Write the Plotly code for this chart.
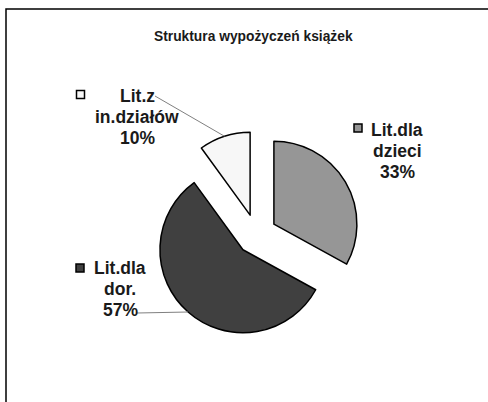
import math
import plotly.graph_objects as go

# ---- data ----
categories = ["Lit.dla dzieci", "Lit.dla dor.", "Lit.z in.działów"]
label_lines = [["Lit.dla", "dzieci"], ["Lit.dla", "dor."], ["Lit.z", "in.działów"]]
values = [33, 57, 10]
colors = ["#969696", "#404040", "#f7f7f7"]
title = "Struktura wypożyczeń książek"

# ---- geometry (pixels) ----
W, H = 488, 402
CX, CY = 256.4, 234.5
R = 83.0
PULL = 0.245
RB = R * (1 + PULL)
LINE_H = 20.7

def px(x):
    return x / W

def py(y):
    return 1 - y / H

fig = go.Figure(go.Pie(
    labels=categories,
    values=values,
    sort=False,
    direction="clockwise",
    rotation=0,
    pull=[PULL] * len(values),
    marker=dict(colors=colors, line=dict(color="#000000", width=1.5)),
    textinfo="none",
    hoverinfo="label+percent",
    showlegend=False,
    domain=dict(x=[px(CX - RB), px(CX + RB)], y=[py(CY + RB), py(CY - RB)]),
))

# mid angles of slices (clockwise from 12 o'clock)
total = sum(values)
mid = []
acc = 0
for v in values:
    mid.append((acc + v / 2) / total * 2 * math.pi)
    acc += v

def arc_point(i):
    a = mid[i]
    return CX + RB * math.sin(a), CY - RB * math.cos(a)

# label placement (pixel centres of text blocks) and key squares
label_pos = [(397, 151), (120, 289), (137, 117)]
key_pos = [(358, 128), (80, 268), (80.5, 94.5)]
leader_start = {2: (155, 96), 1: (137, 313)}

annotations = [dict(
    text=f"<b>{title}</b>", x=px(254), y=py(36), xref="paper", yref="paper",
    showarrow=False, font=dict(family="Liberation Sans, Arial", size=13.8, color="#1a1a1a"),
    xanchor="center", yanchor="middle")]

shapes = [dict(type="rect", xref="paper", yref="paper",
               x0=px(6), x1=px(W + 20), y0=py(H + 20), y1=py(9),
               line=dict(color="#000000", width=1.5), fillcolor="rgba(0,0,0,0)", layer="below")]

for i, cat in enumerate(categories):
    pct = round(values[i] / total * 100)
    lines = label_lines[i] + [f"{pct}%"]
    lx, ly = label_pos[i]
    for k, s in enumerate(lines):
        yy = ly + (k - (len(lines) - 1) / 2) * LINE_H
        annotations.append(dict(
            text=f"<b>{s}</b>", x=px(lx), y=py(yy), xref="paper", yref="paper", showarrow=False,
            font=dict(family="Liberation Sans, Arial", size=17.5, color="#1a1a1a"),
            xanchor="center", yanchor="middle", align="center"))
    kx, ky = key_pos[i]
    shapes.append(dict(type="rect", xref="paper", yref="paper",
                       x0=px(kx - 4), x1=px(kx + 4), y0=py(ky + 4), y1=py(ky - 4),
                       line=dict(color="#000000", width=1.5), fillcolor=colors[i]))
    if i in leader_start:
        sx, sy = leader_start[i]
        ex, ey = arc_point(i)
        shapes.append(dict(type="line", xref="paper", yref="paper",
                           x0=px(sx), y0=py(sy), x1=px(ex), y1=py(ey),
                           line=dict(color="#808080", width=1)))

fig.update_layout(
    width=W, height=H, autosize=False,
    margin=dict(l=0, r=0, t=0, b=0),
    paper_bgcolor="#ffffff", plot_bgcolor="#ffffff",
    annotations=annotations, shapes=shapes,
)

fig.write_html("out.html", config={"displayModeBar": False},
               post_script="document.body.style.margin='0';document.body.style.overflow='hidden';")
